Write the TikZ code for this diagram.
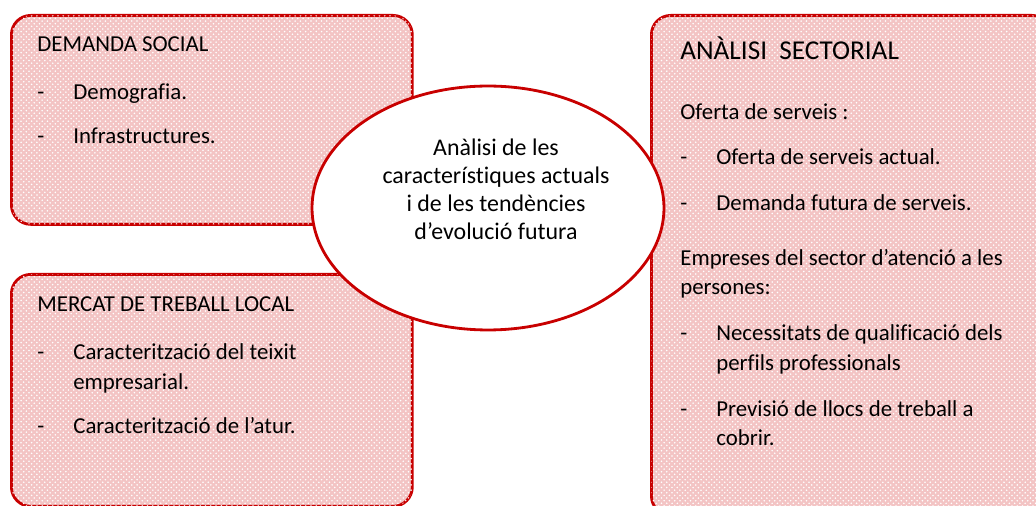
\documentclass[tikz,border=0pt]{standalone}
\usepackage{fontspec}
\setmainfont[Ligatures=NoCommon]{Carlito}
\usepackage{xcolor}
\usetikzlibrary{positioning, patterns, shapes.geometric}
\definecolor{boxred}{RGB}{200, 0, 0}
\definecolor{boxpink}{RGB}{243, 196, 196}
\newcommand{\itemdash}{\makebox[20.5pt][l]{-}}

\begin{document}
\begin{tikzpicture}[x=0.02cm, y=-0.02cm,
    infobox/.style={draw=boxred, line width=1.6pt, rounded corners=11pt, rectangle,
        anchor=north west, inner sep=0pt, fill=boxpink,
        postaction={pattern=crosshatch dots, pattern color=white}},
    boxtitle/.style={anchor=base west, inner sep=0pt, font=\fontsize{13}{17}\selectfont},
    boxtext/.style={anchor=base west, inner sep=0pt, align=left, font=\fontsize{13}{17}\selectfont}]
    \useasboundingbox (0,0) rectangle (1036,506);

    % The three boxes
    \node[infobox, minimum width=8.02cm, minimum height=4.18cm] (social) at (10,14) {};
    \node[infobox, minimum width=8.02cm, minimum height=4.64cm] (mercat) at (10,273) {};
    \node[infobox, minimum width=8.0cm, minimum height=10cm] (sector) at (650,14) {};

    % Centre ellipse
    \node[ellipse, draw=boxred, line width=1.6pt, fill=white, inner sep=0pt,
        minimum width=7.04cm, minimum height=4.88cm] (centre) at (488,208) {};
    \node[align=center, inner sep=0pt, font=\fontsize{13.6}{15.9}\selectfont] (centretext) at (496,189)
        {Anàlisi de les\\característiques actuals\\i de les tendències\\d’evolució futura};

    % Demanda social (text placed by its last line)
    \node[boxtitle] (socialtitle) at (37,52) {DEMANDA SOCIAL};
    \node[boxtext] (socialtext) at (37,144)
        {\itemdash Demografia.\\[8.5pt]
         \itemdash Infrastructures.};

    % Mercat de treball
    \node[boxtitle] (mercattitle) at (37,312) {MERCAT DE TREBALL LOCAL};
    \node[boxtext] (mercattext) at (37,434)
        {\itemdash Caracterització del teixit\\
         \hspace*{20.5pt}empresarial.\\[8.5pt]
         \itemdash Caracterització de l’atur.};

    % Analisi sectorial
    \node[boxtitle, font=\fontsize{15.5}{19}\selectfont] (sectortitle) at (680,60) {ANÀLISI\ \ SECTORIAL};
    \node[boxtext] (sectortext) at (680,446)
        {Oferta de serveis :\\[9pt]
         \itemdash Oferta de serveis actual.\\[9pt]
         \itemdash Demanda futura de serveis.\\[14pt]
         Empreses del sector d’atenció a les\\
         persones:\\[9pt]
         \itemdash Necessitats de qualificació dels\\
         \hspace*{20.5pt}perfils professionals\\[9pt]
         \itemdash Previsió de llocs de treball a\\
         \hspace*{20.5pt}cobrir.};
\end{tikzpicture}
\end{document}
